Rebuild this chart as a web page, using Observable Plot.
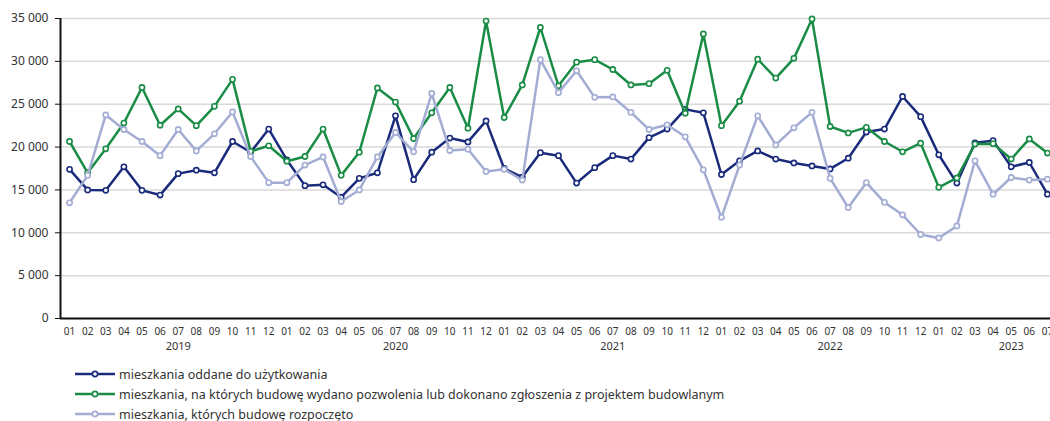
<!DOCTYPE html>
<html>
<head>
<meta charset="utf-8">
<script src="https://cdn.jsdelivr.net/npm/d3@7"></script>
<script src="https://cdn.jsdelivr.net/npm/@observablehq/plot@0.6"></script>
<style>
  html, body { margin: 0; padding: 0; background: #fff; overflow: hidden; }
  #chart svg { display: block; }
  #legend { padding-top: 4px; padding-left: 75px; font-family: "Noto Sans", sans-serif; font-size: 12.5px; color: #333; }
  .row { display: flex; align-items: center; height: 20px; }
  .row svg { display: block; margin-right: 2px; }
</style>
</head>
<body>
<div id="chart"></div>
<div id="legend"></div>
<script>
const yearLabels = ["2019", "2020", "2021", "2022", "2023"];
const monthsInYear = [12, 12, 12, 12, 7];
const yTicks = [0, 5000, 10000, 15000, 20000, 25000, 30000, 35000];

const seriesNames = [
  "mieszkania oddane do użytkowania",
  "mieszkania, na których budowę wydano pozwolenia lub dokonano zgłoszenia z projektem budowlanym",
  "mieszkania, których budowę rozpoczęto"
];
const seriesColors = ["#1b2b7b", "#1a8c46", "#a3acd3"];

const oddane = [17400, 15000, 14950, 17700, 14950, 14400, 16900, 17300, 17000, 20650,
  19400, 22100, 18500, 15500, 15600, 14150, 16350, 17000, 23650, 16200,
  19400, 21050, 20600, 23050, 17500, 16500, 19350, 19000, 15800, 17600,
  19000, 18600, 21100, 22100, 24400, 24000, 16800, 18400, 19550, 18600,
  18150, 17800, 17450, 18700, 21750, 22100, 25900, 23550, 19100, 15800,
  20500, 20750, 17700, 18200, 14500];
const pozwolenia = [20650, 17000, 19800, 22800, 26950, 22550, 24450, 22500, 24750, 27900,
  19500, 20150, 18350, 18900, 22100, 16700, 19400, 26900, 25250, 21000,
  24000, 26950, 22200, 34700, 23450, 27250, 33950, 27150, 29900, 30200,
  29050, 27250, 27400, 28950, 23950, 33200, 22500, 25350, 30250, 28050,
  30350, 34950, 22400, 21650, 22300, 20650, 19450, 20450, 15300, 16400,
  20350, 20400, 18600, 20950, 19300];
const rozpoczete = [13500, 16700, 23750, 22050, 20650, 19000, 22050, 19550, 21550, 24100,
  18900, 15850, 15850, 17900, 18850, 13650, 15000, 18850, 21700, 19450,
  26250, 19600, 19750, 17150, 17400, 16150, 30200, 26350, 28900, 25800,
  25850, 24050, 22050, 22600, 21200, 17350, 11800, 17900, 23650, 20250,
  22250, 24050, 16350, 12950, 15850, 13550, 12100, 9800, 9400, 10800,
  18400, 14500, 16450, 16150, 16250];

// periods
const periods = [];
const yearTicks = [];
yearLabels.forEach((yr, k) => {
  const first = periods.length;
  for (let m = 1; m <= monthsInYear[k]; m++) {
    periods.push({i: periods.length, year: yr, month: String(m).padStart(2, "0")});
  }
  const last = periods.length - 1;
  yearTicks.push({i: Math.min(first + 6, last - 2), label: yr});
});
const monthLabel = periods.map(p => p.month);
const yearByIdx = new Map(yearTicks.map(d => [d.i, d.label]));

const allSeries = [oddane, pozwolenia, rozpoczete];
const data = [];
allSeries.forEach((vals, s) => vals.forEach((v, i) => data.push({i, v, s: seriesNames[s]})));

const fmt = d => d3.format(",")(d).replace(/,/g, " ");

const seriesMarks = [];
allSeries.forEach((vals, s) => {
  const d = data.filter(r => r.s === seriesNames[s]);
  seriesMarks.push(Plot.line(d, {x: "i", y: "v", stroke: seriesColors[s], strokeWidth: 2.5}));
  seriesMarks.push(Plot.dot(d, {x: "i", y: "v", r: 2.6, fill: "white", stroke: seriesColors[s], strokeWidth: 1.6}));
});

const chart = Plot.plot({
  width: 1050,
  height: 360,
  marginLeft: 60,
  marginRight: 0,
  marginTop: 18,
  marginBottom: 42,
  style: {fontFamily: "Noto Sans, sans-serif", color: "#333", background: "white", overflow: "visible"},
  x: {type: "linear", domain: [-0.5, 54.17]},
  y: {domain: [0, 35000]},
  marks: [
    Plot.gridY(yTicks, {stroke: "#d9d9d9", strokeOpacity: 1, strokeWidth: 1.5}),
    Plot.axisY(yTicks, {tickSize: 5, tickPadding: 7, label: null, fontSize: 12, tickFormat: fmt, stroke: "#111"}),
    Plot.axisX(periods.map(p => p.i), {tickSize: 0, tickPadding: 9, label: null, fontSize: 10, tickFormat: i => monthLabel[i]}),
    Plot.axisX(yearTicks.map(d => d.i), {tickSize: 0, tickPadding: 24, label: null, fontSize: 11, tickFormat: i => yearByIdx.get(i)}),
    Plot.ruleY([0], {stroke: "#111", strokeWidth: 2}),
    Plot.ruleX([-0.5], {stroke: "#111", strokeWidth: 2}),
    ...seriesMarks
  ]
});
document.getElementById("chart").appendChild(chart);

const legend = document.getElementById("legend");
seriesNames.forEach((name, s) => {
  const row = document.createElement("div");
  row.className = "row";
  row.innerHTML = `<svg width="42" height="10"><line x1="0" y1="5" x2="40" y2="5" stroke="${seriesColors[s]}" stroke-width="2.5"/><circle cx="20" cy="5" r="2.6" fill="white" stroke="${seriesColors[s]}" stroke-width="1.6"/></svg><span>${name}</span>`;
  legend.appendChild(row);
});
</script>
</body>
</html>
